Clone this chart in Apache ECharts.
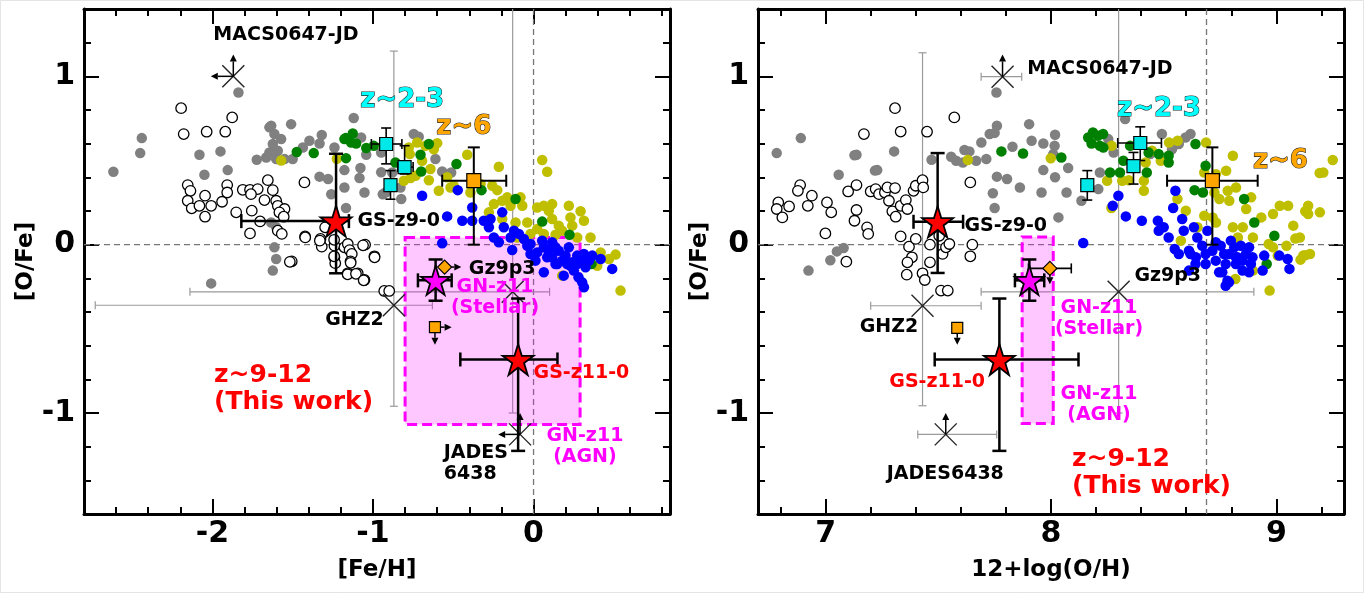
<!DOCTYPE html>
<html>
<head>
<meta charset="utf-8">
<script src="https://cdn.jsdelivr.net/npm/echarts@6/dist/echarts.min.js"></script>
<style>
  html, body { margin: 0; padding: 0; background: #fff; }
  #chart { width: 1364px; height: 593px; }
</style>
</head>
<body>
<div id="chart"></div>
<script>
// ---- axes ----
const feRange = [-2.8, 0.85];
const ohRange = [6.7, 9.3];
const ofeRange = [-1.6, 1.4];
const feMinor = [-2.8, -2.6, -2.4, -2.2, -2.0, -1.8, -1.6, -1.4, -1.2, -1.0, -0.8, -0.6, -0.4, -0.2, 0, 0.2, 0.4, 0.6, 0.8];
const feMajor = [-2, -1, 0];
const ohMinor = [6.8, 7.0, 7.2, 7.4, 7.6, 7.8, 8.0, 8.2, 8.4, 8.6, 8.8, 9.0, 9.2];
const ohMajor = [7, 8, 9];
const ofeMinor = [-1.6, -1.4, -1.2, -1.0, -0.8, -0.6, -0.4, -0.2, 0, 0.2, 0.4, 0.6, 0.8, 1.0, 1.2, 1.4];
const ofeMajor = [-1, 0, 1];
const solarFe = [0];
const solarOH = [8.69];
const solarOFe = [0];

// ---- left panel: [Fe/H] vs [O/Fe] ----
const feGray = [[-1.838,0.904],[-2.44,0.633],[-2.45,0.544],[-2.617,0.433],[-2.081,0.534],[-1.95,0.554],[-2.05,0.415],[-1.905,0.443],[-1.724,0.504],[-1.634,0.706],[-1.614,0.657],[-1.572,0.627],[-1.51,0.716],[-1.645,0.697],[-1.624,0.598],[-1.645,0.548],[-1.593,0.558],[-1.603,0.509],[-1.551,0.509],[-1.50,0.509],[-1.665,0.518],[-1.437,0.577],[-1.396,0.617],[-1.333,0.601],[-1.319,0.651],[-1.24,0.577],[-1.12,0.752],[-1.074,0.637],[-1.042,0.534],[-1.178,0.443],[-1.333,0.404],[-1.28,0.39],[-1.078,0.455],[-1.084,0.396],[-1.178,0.34],[-1.053,0.31],[-1.26,0.30],[-1.168,0.218],[-0.949,0.548],[-0.949,0.43],[-0.939,0.30],[-1.603,0.103],[-1.614,-0.016],[-1.603,-0.085],[-1.624,-0.154],[-2.008,-0.23],[-1.634,0.132],[-0.746,0.657],[-0.715,0.641],[-0.611,0.509],[-0.569,0.435],[-0.513,0.429],[-0.88,0.429],[-0.829,0.34],[-0.824,0.271],[-0.922,0.31]];
const feOpen = [[-2.195,0.811],[-2.179,0.657],[-2.036,0.671],[-1.92,0.671],[-1.877,0.756],[-2.154,0.354],[-2.137,0.32],[-2.154,0.261],[-2.129,0.216],[-2.081,0.231],[-2.046,0.291],[-2.008,0.231],[-2.046,0.166],[-1.94,0.255],[-1.908,0.354],[-1.908,0.31],[-1.852,0.192],[-1.811,0.326],[-1.766,0.326],[-1.718,0.33],[-1.76,0.30],[-1.676,0.265],[-1.655,0.383],[-1.624,0.324],[-1.603,0.261],[-1.593,0.231],[-1.551,0.212],[-1.583,0.192],[-1.556,0.166],[-1.755,0.202],[-1.703,0.138],[-1.766,0.067],[-1.593,0.083],[-1.568,0.064],[-1.506,-0.099],[-1.427,0.37],[-1.423,0.049],[-1.327,0.034],[-1.319,-0.012],[-1.298,0.103],[-1.24,-0.006],[-1.24,-0.075],[-1.235,-0.11],[-1.178,-0.016],[-1.157,0.004],[-1.146,-0.032],[-1.132,-0.055],[-1.14,-0.099],[-1.049,0.0],[-0.991,-0.069],[-1.157,-0.17],[-1.095,-0.17],[-1.053,-0.21],[-0.93,-0.275],[-0.899,-0.275],[-1.158,-0.176],[-1.106,-0.173],[-1.058,-0.212],[-1.139,-0.108],[-1.062,-0.004],[-0.99,-0.075],[-1.518,-0.102],[-1.422,0.043],[-1.331,0.024],[-1.242,0.029],[-1.242,-0.069]];
const feGreen = [[-1.475,0.55],[-1.369,0.544],[-1.178,0.627],[-1.126,0.66],[-1.17,0.633],[-1.136,0.607],[-1.105,0.601],[-1.168,0.514],[-1.042,0.574],[-0.995,0.587],[-0.652,0.598],[-0.704,0.534],[-0.70,0.435],[-0.48,0.479],[-0.324,0.324],[-0.112,0.271],[0.054,0.137],[0.224,0.059],[0.361,-0.115],[-0.86,0.488]];
const feOlive = [[-1.572,0.50],[-1.225,0.51],[-0.6,0.603],[-0.621,0.567],[-0.673,0.587],[-0.725,0.607],[-0.777,0.577],[-0.771,0.538],[-0.694,0.498],[-0.735,0.409],[-0.766,0.396],[-0.808,0.38],[-0.642,0.449],[-0.652,0.383],[-0.59,0.32],[-0.538,0.40],[-0.517,0.34],[-0.413,0.534],[-0.216,0.463],[0.054,0.503],[0.085,0.433],[-0.393,0.31],[-0.33,0.36],[-0.257,0.35],[-0.226,0.324],[-0.195,0.261],[-0.164,0.281],[-0.143,0.231],[-0.278,0.192],[-0.247,0.241],[-0.195,0.152],[-0.081,0.281],[-0.07,0.231],[0.023,0.221],[0.064,0.231],[0.116,0.241],[0.095,0.202],[0.22,0.231],[0.23,0.162],[0.293,0.198],[0.314,0.142],[0.116,0.152],[0.157,0.113],[0.178,0.083],[0.023,0.093],[-0.019,0.064],[-0.039,0.132],[0.064,0.064],[0.241,0.113],[0.272,0.043],[0.355,0.043],[0.418,-0.046],[0.511,-0.059],[0.47,-0.085],[0.397,-0.125],[0.178,-0.184],[0.542,-0.273],[-0.102,0.043],[-0.112,0.132],[0.137,0.059],[-0.497,0.35]];
const feBlue = [[-0.694,0.291],[-0.472,0.324],[-0.538,0.168],[-0.444,0.142],[-0.382,0.221],[-0.382,0.142],[-0.569,0.008],[-0.31,0.142],[-0.278,0.103],[-0.268,0.152],[-0.247,0.043],[-0.195,0.192],[-0.185,0.103],[-0.216,0.014],[-0.143,0.043],[-0.122,0.083],[-0.091,0.064],[-0.06,0.034],[-0.133,-0.032],[-0.039,-0.006],[-0.019,-0.055],[0.023,-0.046],[0.054,0.024],[0.064,-0.016],[0.095,-0.036],[0.116,-0.075],[0.137,-0.016],[0.157,-0.036],[0.178,-0.095],[0.199,-0.065],[0.22,-0.016],[0.241,-0.105],[0.251,-0.154],[0.272,-0.065],[0.293,-0.095],[0.314,-0.055],[0.324,-0.134],[0.303,-0.224],[0.314,-0.253],[0.366,-0.065],[0.418,-0.085],[0.49,-0.144],[0.188,-0.184],[0.064,-0.164],[0.137,-0.115],[0.012,-0.095],[-0.019,0.004],[0.085,-0.075],[0.148,-0.115],[0.23,-0.125],[0.28,-0.194],[0.116,0.014],[0.209,-0.115],[0.272,-0.115],[0.345,-0.095]];
const feCyan = [[-0.918,0.598,-1.01,-0.82,0.48,0.693],[-0.803,0.461,-0.846,-0.75,0.42,0.588],[-0.891,0.354,null,null,0.27,0.44]];
const feZ6 = [[-0.372,0.38,-0.569,-0.17,0.0,0.578]];
const feRedStars = [[-1.23,0.14,-1.82,-1.15,-0.17,0.54],[-0.096,-0.682,-0.456,0.149,-1.225,-0.32]];
const feGnz11 = [[-0.61,-0.212,-0.72,-0.51,-0.333,-0.088]];
const feDiamond = [[-0.554,-0.133]];
const feLimitSq = [[-0.614,-0.49]];
const feCrosses = [[-1.87,1.0],[-0.87,-0.36],[-0.13,-0.28],[-0.084,-1.127]];
const feThinBars = [[-0.87,-0.36,-2.73,-0.63,-0.96,1.15],[-0.13,-0.28,-2.14,0.10,-1.0,1.7]];
const feArrows = [[-1.87,1.0,-2.01,1.0],[-1.87,1.0,-1.87,1.13],[-0.084,-1.127,-0.22,-1.127],[-0.084,-1.127,-0.084,-1.0],[-0.554,-0.133,-0.45,-0.133],[-0.614,-0.49,-0.51,-0.49],[-0.614,-0.49,-0.614,-0.594]];
const feAgnBox = [[-0.80, 0.29, -1.068, 0.043]];

// ---- right panel: 12+log(O/H) vs [O/Fe] ----
const ohGray = [[6.89,0.633],[6.783,0.544],[7.137,0.534],[7.058,0.415],[7.229,0.443],[7.304,0.554],[6.924,-0.154],[7.021,-0.093],[7.05,-0.04],[7.08,-0.02],[7.47,0.504],[7.557,0.522],[7.579,0.498],[7.609,0.488],[7.616,0.562],[7.638,0.554],[7.668,0.498],[7.713,0.509],[7.691,0.607],[7.728,0.657],[7.75,0.664],[7.76,0.706],[7.758,0.904],[7.829,0.582],[7.903,0.716],[7.914,0.617],[7.966,0.601],[8.018,0.653],[8.01,0.538],[7.76,0.404],[7.805,0.39],[7.862,0.34],[7.742,0.305],[7.958,0.31],[7.966,0.443],[7.75,0.218],[8.018,0.40],[8.033,0.162],[8.016,0.587],[8.076,0.455],[8.069,0.31],[8.254,0.627],[8.278,0.548],[8.217,0.429],[8.21,0.33],[8.492,0.657],[8.537,0.567],[8.597,0.637],[8.619,0.657],[8.567,0.598],[8.44,0.538],[8.329,0.746],[8.135,0.261],[7.219,0.44],[7.128,0.531]];
const ohOpen = [[7.308,0.811],[7.571,0.756],[7.17,0.657],[7.333,0.672],[7.45,0.671],[7.642,0.37],[6.887,0.354],[6.877,0.32],[6.79,0.251],[6.783,0.212],[6.808,0.162],[6.838,0.227],[6.921,0.231],[6.939,0.291],[7.006,0.251],[7.025,0.192],[6.999,0.067],[7.1,0.316],[7.137,0.354],[7.137,0.206],[7.128,0.142],[7.184,0.103],[7.189,0.064],[7.092,-0.101],[7.2,0.316],[7.222,0.33],[7.237,0.30],[7.263,0.31],[7.274,0.34],[7.308,0.336],[7.281,0.261],[7.296,0.198],[7.311,0.166],[7.333,0.231],[7.356,0.265],[7.363,0.212],[7.39,0.32],[7.40,0.35],[7.43,0.383],[7.433,0.34],[7.333,0.049],[7.37,-0.012],[7.40,0.034],[7.383,-0.075],[7.363,-0.105],[7.36,-0.178],[7.43,-0.17],[7.44,-0.21],[7.463,0.0],[7.463,-0.105],[7.504,0.053],[7.519,-0.055],[7.534,-0.016],[7.549,0.004],[7.642,-0.069],[7.651,0.0],[7.512,-0.273],[7.542,-0.273]];
const ohGreen = [[8.165,0.637],[8.186,0.667],[8.208,0.647],[8.231,0.657],[8.18,0.601],[8.217,0.587],[8.232,0.577],[8.046,0.518],[8.321,0.498],[8.306,0.429],[8.351,0.587],[8.433,0.548],[8.425,0.429],[8.478,0.538],[8.522,0.528],[8.522,0.488],[8.641,0.598],[8.686,0.469],[8.637,0.324],[8.674,0.31],[8.857,0.271],[8.902,0.132],[8.991,0.053],[8.957,-0.115],[8.262,0.429],[7.78,0.554],[7.876,0.542]];
const ohOlive = [[7.631,0.503],[7.999,0.513],[8.269,0.587],[8.448,0.558],[8.487,0.498],[8.524,0.607],[8.562,0.617],[8.688,0.607],[8.807,0.528],[8.777,0.439],[8.732,0.419],[8.68,0.429],[8.42,0.488],[8.345,0.383],[8.316,0.38],[8.249,0.38],[8.412,0.38],[8.412,0.32],[8.268,0.218],[8.561,0.271],[8.598,0.202],[8.725,0.31],[8.784,0.32],[8.821,0.34],[8.791,0.261],[8.747,0.271],[8.866,0.212],[8.888,0.281],[8.933,0.162],[8.985,0.182],[9.015,0.231],[9.052,0.231],[9.075,0.113],[9.141,0.231],[9.141,0.182],[9.193,0.192],[9.208,0.429],[9.25,0.503],[9.104,0.043],[9.045,-0.006],[9.119,-0.065],[9.149,-0.055],[9.006,-0.065],[8.985,-0.016],[8.966,0.004],[8.896,0.043],[8.851,0.103],[8.807,0.103],[8.829,0.043],[8.732,0.132],[8.717,0.162],[8.68,0.172],[8.65,0.103],[8.576,0.024],[8.818,-0.204],[8.896,-0.154],[8.97,-0.273],[9.192,0.426],[9.128,0.198],[9.084,0.036],[9.107,-0.089],[9.128,-0.063]];
const ohBlue = [[8.299,0.291],[8.274,0.231],[8.332,0.168],[8.403,0.142],[8.143,0.01],[8.552,0.32],[8.542,0.218],[8.474,0.142],[8.5,0.103],[8.522,0.043],[8.549,-0.026],[8.582,0.152],[8.589,0.083],[8.612,-0.036],[8.634,0.103],[8.649,0.043],[8.671,-0.006],[8.694,0.083],[8.686,-0.055],[8.716,-0.036],[8.731,-0.095],[8.753,-0.006],[8.76,-0.164],[8.775,-0.115],[8.798,0.024],[8.79,-0.055],[8.813,-0.016],[8.827,-0.075],[8.842,-0.006],[8.85,-0.154],[8.865,-0.055],[8.879,-0.016],[8.887,-0.115],[8.894,-0.075],[8.783,-0.214],[8.79,-0.224],[8.775,-0.244],[8.746,-0.164],[8.612,-0.154],[8.619,-0.055],[8.567,-0.055],[8.946,-0.065],[9.013,-0.065],[9.05,-0.085],[9.058,-0.144],[8.939,-0.154],[8.82,-0.115],[8.641,-0.115],[8.478,0.083],[8.643,-0.075],[8.731,0.014],[8.768,-0.055],[8.82,-0.075],[8.85,-0.095],[8.686,-0.115],[8.879,-0.164]];
const ohCyan = [[8.396,0.604,8.296,8.49,0.50,0.70],[8.366,0.467,8.34,8.39,0.36,0.548],[8.161,0.354,null,null,0.265,0.44]];
const ohZ6 = [[8.716,0.38,8.515,8.917,0.0,0.578]];
const ohRedStars = [[7.497,0.136,7.39,7.61,-0.168,0.544],[7.771,-0.682,7.484,8.122,-1.225,-0.32]];
const ohGnz11 = [[7.904,-0.212,7.84,7.97,-0.333,-0.088]];
const ohDiamond = [[7.995,-0.141,7.90,8.09,null,null]];
const ohLimitSq = [[7.584,-0.494]];
const ohCrosses = [[7.785,0.998],[7.43,-0.363],[8.30,-0.28],[7.533,-1.127]];
const ohThinBars = [[7.43,-0.363,7.20,7.69,-0.957,1.14],[8.30,-0.28,7.69,8.90,-1.0,1.7],[7.785,0.998,7.69,7.87,null,null],[7.533,-1.127,7.409,7.759,null,null]];
const ohArrows = [[7.785,0.998,7.785,1.13],[7.533,-1.127,7.533,-1.0],[7.584,-0.494,7.584,-0.594],[7.995,-0.141,7.995,-0.235]];
const ohAgnBox = [[7.872, 8.01, -1.063, 0.045]];

// ---- annotations: [x, y, text, anchor] ----
const feBlackNotes = [[-1.542,1.248,'MACS0647-JD','c'],[-1.097,0.142,'GS-z9-0','l'],[-0.403,-0.145,'Gz9p3','l'],[-1.115,-0.45,'GHZ2','c'],[-0.559,-1.302,'JADES\n6438','l']];
const feMagentaNotes = [[-0.24,-0.315,'GN-z11\n(Stellar)','c'],[0.32,-1.20,'GN-z11\n(AGN)','c']];
const feRedNotes = [[0.0,-0.761,'GS-z11-0','l']];
const feWorkNote = [[-1.99,-0.857,'z~9-12\n(This work)','l']];
const feCyanNote = [[-0.818,0.86,'z~2-3','c']];
const feOrangeNote = [[-0.434,0.697,'z~6','c']];
const ohBlackNotes = [[7.895,1.044,'MACS0647-JD','l'],[7.616,0.113,'GS-z9-0','l'],[8.37,-0.184,'Gz9p3','l'],[7.281,-0.49,'GHZ2','c'],[7.531,-1.363,'JADES6438','c']];
const ohMagentaNotes = [[8.213,-0.44,'GN-z11\n(Stellar)','c'],[8.213,-0.948,'GN-z11\n(AGN)','c']];
const ohRedNotes = [[7.495,-0.814,'GS-z11-0','c']];
const ohWorkNote = [[8.093,-1.358,'z~9-12\n(This work)','l']];
const ohCyanNote = [[8.479,0.805,'z~2-3','c']];
const ohOrangeNote = [[9.018,0.498,'z~6','c']];

const FONT = 'DejaVu Sans';
const STAR = 'path://M50,2 L61.2,36.5 L97.6,36.5 L68.2,57.9 L79.4,92.4 L50,71 L20.6,92.4 L31.8,57.9 L2.4,36.5 L38.8,36.5 Z';

function axisSet(dim, grid, range, minor, major, name, nameGap) {
  const sides = dim === 'x' ? ['bottom', 'top'] : ['left', 'right'];
  const common = { type: 'value', gridIndex: grid, min: range[0], max: range[1], splitLine: { show: false } };
  const tickStyle = { color: '#000', width: 2 };
  const axes = [];
  sides.forEach((pos, s) => {
    axes.push(Object.assign({}, common, {
      position: pos,
      axisLine: { show: true, onZero: false, lineStyle: { color: '#000', width: 3 } },
      axisTick: { show: true, inside: true, length: 7, customValues: minor, lineStyle: tickStyle },
      axisLabel: s === 0 ? {
        show: true, customValues: major, color: '#000', fontFamily: FONT,
        fontWeight: 'bold', fontSize: 30, margin: dim === 'x' ? 5 : 9,
      } : { show: false },
      name: s === 0 ? name : '',
      nameLocation: 'middle',
      nameGap: nameGap,
      nameRotate: dim === 'y' ? 90 : 0,
      nameTextStyle: { color: '#000', fontFamily: FONT, fontWeight: 'bold', fontSize: 23 },
    }));
    axes.push(Object.assign({}, common, {
      position: pos,
      axisLine: { show: false, onZero: false },
      axisTick: { show: true, inside: true, length: 15, customValues: major, lineStyle: tickStyle },
      axisLabel: { show: false },
    }));
  });
  return axes;
}

function cloud(rows, ax, color, border) {
  return {
    type: 'scatter', xAxisIndex: ax, yAxisIndex: ax, z: 4, silent: true,
    symbol: 'circle', symbolSize: 10.5, data: rows,
    itemStyle: { color: color, borderColor: border || color, borderWidth: border ? 1.3 : 0, opacity: 1 },
  };
}

function bars(rows, ax, color, width, cap, z) {
  return {
    type: 'custom', xAxisIndex: ax, yAxisIndex: ax, z: z, silent: true, clip: true,
    data: rows.map((r) => [r[0], r[1]]),
    renderItem(params, api) {
      const r = rows[params.dataIndex];
      const style = { stroke: color, lineWidth: width, fill: null };
      const kids = [];
      const seg = (a, b) => kids.push({ type: 'line', shape: { x1: a[0], y1: a[1], x2: b[0], y2: b[1] }, style });
      if (r[2] != null) {
        const a = api.coord([r[2], r[1]]);
        const b = api.coord([r[3], r[1]]);
        seg(a, b);
        seg([a[0], a[1] - cap], [a[0], a[1] + cap]);
        seg([b[0], b[1] - cap], [b[0], b[1] + cap]);
      }
      if (r[4] != null) {
        const a = api.coord([r[0], r[4]]);
        const b = api.coord([r[0], r[5]]);
        seg(a, b);
        seg([a[0] - cap, a[1]], [a[0] + cap, a[1]]);
        seg([b[0] - cap, b[1]], [b[0] + cap, b[1]]);
      }
      return { type: 'group', children: kids };
    },
  };
}

function arrows(rows, ax) {
  return {
    type: 'custom', xAxisIndex: ax, yAxisIndex: ax, z: 5, silent: true,
    data: rows.map((r) => [r[0], r[1]]),
    renderItem(params, api) {
      const r = rows[params.dataIndex];
      const a = api.coord([r[0], r[1]]);
      const b = api.coord([r[2], r[3]]);
      const dx = b[0] - a[0], dy = b[1] - a[1];
      const len = Math.hypot(dx, dy) || 1;
      const ux = dx / len, uy = dy / len;
      const h = 7, w = 3.5;
      const bx = b[0] - ux * h, by = b[1] - uy * h;
      return {
        type: 'group',
        children: [
          { type: 'line', shape: { x1: a[0], y1: a[1], x2: bx, y2: by }, style: { stroke: '#000', lineWidth: 1.5 } },
          { type: 'polygon', shape: { points: [[b[0], b[1]], [bx - uy * w, by + ux * w], [bx + uy * w, by - ux * w]] }, style: { fill: '#000' } },
        ],
      };
    },
  };
}

function crosses(rows, ax) {
  return {
    type: 'custom', xAxisIndex: ax, yAxisIndex: ax, z: 5, silent: true,
    data: rows,
    renderItem(params, api) {
      const c = api.coord([api.value(0), api.value(1)]);
      const s = 11;
      const style = { stroke: '#222', lineWidth: 1.4 };
      return {
        type: 'group',
        children: [
          { type: 'line', shape: { x1: c[0] - s, y1: c[1] - s, x2: c[0] + s, y2: c[1] + s }, style },
          { type: 'line', shape: { x1: c[0] - s, y1: c[1] + s, x2: c[0] + s, y2: c[1] - s }, style },
        ],
      };
    },
  };
}

function agnBox(rows, ax) {
  return {
    type: 'custom', xAxisIndex: ax, yAxisIndex: ax, z: 3, silent: true,
    data: rows.map((r) => [r[0], r[3]]),
    renderItem(params, api) {
      const r = rows[params.dataIndex];
      const p0 = api.coord([r[0], r[3]]);
      const p1 = api.coord([r[1], r[2]]);
      return {
        type: 'rect',
        shape: { x: p0[0], y: p0[1], width: p1[0] - p0[0], height: p1[1] - p0[1] },
        style: { fill: 'rgba(255,0,255,0.22)', stroke: '#ff00ff', lineWidth: 3, lineDash: [10, 5] },
      };
    },
  };
}

function refLines(xs, ys, ax) {
  const rows = xs.map((v) => ['x', v]).concat(ys.map((v) => ['y', v]));
  return {
    type: 'custom', xAxisIndex: ax, yAxisIndex: ax, z: 1, silent: true,
    data: rows.map((r, i) => [i, 0]),
    renderItem(params, api) {
      const r = rows[params.dataIndex];
      const cs = params.coordSys;
      const style = { stroke: '#777', lineWidth: 1.3, lineDash: [6, 4] };
      if (r[0] === 'x') {
        const x = api.coord([r[1], 0])[0];
        return { type: 'line', shape: { x1: x, y1: cs.y, x2: x, y2: cs.y + cs.height }, style };
      }
      const y = api.coord([0, r[1]])[1];
      return { type: 'line', shape: { x1: cs.x, y1: y, x2: cs.x + cs.width, y2: y }, style };
    },
  };
}

function markers(rows, ax, symbol, size, color, border, bw, z) {
  return {
    type: 'scatter', xAxisIndex: ax, yAxisIndex: ax, z: z || 7, silent: true,
    symbol: symbol, symbolSize: size,
    data: rows.map((r) => [r[0], r[1]]),
    itemStyle: { color: color, borderColor: border, borderWidth: bw, opacity: 1 },
  };
}

function notes(rows, ax, style) {
  const s = Object.assign({ size: 19, lineHeight: 21, stroke: null, strokeWidth: 0 }, style);
  return {
    type: 'custom', xAxisIndex: ax, yAxisIndex: ax, z: 10, silent: true,
    data: rows.map((r) => [r[0], r[1]]),
    renderItem(params, api) {
      const r = rows[params.dataIndex];
      const c = api.coord([r[0], r[1]]);
      return {
        type: 'text', x: c[0], y: c[1],
        style: {
          text: r[2], fill: s.color, fontFamily: FONT, fontWeight: 'bold', fontSize: s.size,
          lineHeight: s.lineHeight, align: r[3] === 'l' ? 'left' : 'center', verticalAlign: 'middle',
          stroke: s.stroke, lineWidth: s.strokeWidth,
        },
      };
    },
  };
}

function panel(ax, d) {
  return [
    refLines(d.refX, d.refY, ax),
    bars(d.thin, ax, '#9a9a9a', 1.2, 4, 2),
    agnBox(d.box, ax),
    cloud(d.gray, ax, '#808080'),
    cloud(d.olive, ax, '#bfbf00'),
    cloud(d.green, ax, '#008000'),
    cloud(d.blue, ax, '#0000ff'),
    cloud(d.open, ax, '#ffffff', '#000000'),
    crosses(d.crosses, ax),
    arrows(d.arrows, ax),
    bars(d.cyan, ax, '#000', 1.6, 5, 6),
    bars(d.z6, ax, '#000', 2, 6, 6),
    bars(d.diamond, ax, '#000', 1.6, 5, 6),
    bars(d.gnz11, ax, '#000', 2.5, 7, 6),
    bars(d.stars, ax, '#000', 2.5, 7, 6),
    markers(d.cyan, ax, 'rect', 13, '#00e8e8', '#000', 1.2),
    markers(d.z6, ax, 'rect', 14, '#ffa500', '#000', 1.2),
    markers(d.limit, ax, 'rect', 11, '#ffa500', '#000', 1.2),
    markers(d.diamond, ax, 'diamond', 14, '#ffa500', '#000', 1.2),
    markers(d.gnz11, ax, STAR, 29, '#ff00ff', '#000', 1.8, 8),
    markers(d.stars, ax, STAR, 31, '#ff0000', '#000', 1.8, 8),
    notes(d.black, ax, { color: '#000' }),
    notes(d.magenta, ax, { color: '#ff00ff' }),
    notes(d.red, ax, { color: '#ff0000' }),
    notes(d.work, ax, { color: '#ff0000', size: 25, lineHeight: 27 }),
    notes(d.cyanNote, ax, { color: '#00ffff', size: 26, lineHeight: 28, stroke: '#222', strokeWidth: 1.1 }),
    notes(d.orangeNote, ax, { color: '#ffa500', size: 26, lineHeight: 28, stroke: '#222', strokeWidth: 1.1 }),
  ];
}

const chart = echarts.init(document.getElementById('chart'), null, { renderer: 'canvas' });
chart.setOption({
  backgroundColor: '#ffffff',
  animation: false,
  grid: [
    { left: 84, top: 9, width: 586, height: 505 },
    { left: 758, top: 9, width: 586, height: 505 },
  ],
  xAxis: [].concat(
    axisSet('x', 0, feRange, feMinor, feMajor, '[Fe/H]', 45),
    axisSet('x', 1, ohRange, ohMinor, ohMajor, '12+log(O/H)', 45)
  ),
  yAxis: [].concat(
    axisSet('y', 0, ofeRange, ofeMinor, ofeMajor, '[O/Fe]', 38),
    axisSet('y', 1, ofeRange, ofeMinor, ofeMajor, '[O/Fe]', 38)
  ),
  graphic: [{
    type: 'rect', silent: true, z: -1,
    shape: { x: 0.5, y: 0.5, width: 1363, height: 592 },
    style: { fill: 'none', stroke: '#e4e4e4', lineWidth: 1 },
  }],
  series: [].concat(
    panel(0, {
      refX: solarFe, refY: solarOFe, thin: feThinBars, box: feAgnBox,
      gray: feGray, olive: feOlive, green: feGreen, blue: feBlue, open: feOpen,
      crosses: feCrosses, arrows: feArrows, cyan: feCyan, z6: feZ6, diamond: feDiamond,
      gnz11: feGnz11, stars: feRedStars, limit: feLimitSq,
      black: feBlackNotes, magenta: feMagentaNotes, red: feRedNotes, work: feWorkNote,
      cyanNote: feCyanNote, orangeNote: feOrangeNote,
    }),
    panel(4, {
      refX: solarOH, refY: solarOFe, thin: ohThinBars, box: ohAgnBox,
      gray: ohGray, olive: ohOlive, green: ohGreen, blue: ohBlue, open: ohOpen,
      crosses: ohCrosses, arrows: ohArrows, cyan: ohCyan, z6: ohZ6, diamond: ohDiamond,
      gnz11: ohGnz11, stars: ohRedStars, limit: ohLimitSq,
      black: ohBlackNotes, magenta: ohMagentaNotes, red: ohRedNotes, work: ohWorkNote,
      cyanNote: ohCyanNote, orangeNote: ohOrangeNote,
    })
  ),
});
</script>
</body>
</html>
